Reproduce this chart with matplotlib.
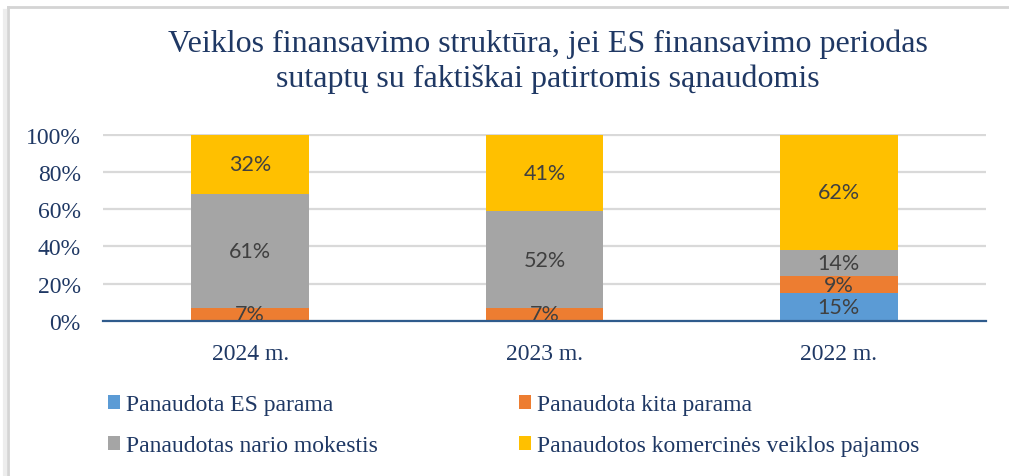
import numpy as np
import matplotlib
matplotlib.use('Agg')
import matplotlib.pyplot as plt
from matplotlib.lines import Line2D

years = ['2024 m.', '2023 m.', '2022 m.']
series_names = ['Panaudota ES parama', 'Panaudota kita parama',
                'Panaudotas nario mokestis', 'Panaudotos komercinės veiklos pajamos']
es_parama = [0, 0, 15]
kita_parama = [7, 7, 9]
nario_mokestis = [61, 52, 14]
komercines = [32, 41, 62]
colors = ['#5B9BD5', '#ED7D31', '#A5A5A5', '#FFC000']

navy = '#1F3864'
serif = 'Liberation Serif'

fig = plt.figure(figsize=(10.09, 4.77), dpi=100)
ax = fig.add_axes([0.1021, 0.3249, 0.875, 0.392])

x = np.arange(len(years))
bottom = np.zeros(len(years))
handles = []
for name, vals, c in zip(series_names, [es_parama, kita_parama, nario_mokestis, komercines], colors):
    vals = np.array(vals) / 100
    bars = ax.bar(x, vals, 0.4, bottom=bottom, color=c, label=name, zorder=3)
    labels = ['%d%%' % round(v * 100) if v > 0 else '' for v in vals]
    ax.bar_label(bars, labels=labels, label_type='center', color='#404040',
                 fontsize=15.5, family='Lato', zorder=4)
    bottom += vals
    handles.append(bars)

ax.set_xlim(-0.5, 2.5)
ax.set_ylim(0, 1.003)
ax.set_yticks(np.arange(0, 1.01, 0.2))
ax.set_yticklabels(['%d%%' % (v * 100) for v in np.arange(0, 1.01, 0.2)])
ax.set_xticks(x)
ax.set_xticklabels(years)
ax.tick_params(length=0, labelsize=17, labelcolor=navy)
for lab in ax.get_xticklabels() + ax.get_yticklabels():
    lab.set_family(serif)
ax.tick_params(axis='x', pad=16)
ax.tick_params(axis='y', pad=16)
ax.yaxis.grid(True, color='#D9D9D9', lw=1.6, zorder=0)
for s in ['top', 'right', 'left']:
    ax.spines[s].set_visible(False)
ax.spines['bottom'].set_color('#2F5B8C')
ax.spines['bottom'].set_linewidth(1.6)
ax.spines['bottom'].set_zorder(5)

fig.text(0.543, 0.871, 'Veiklos finansavimo struktūra, jei ES finansavimo periodas\n'
         'sutaptų su faktiškai patirtomis sąnaudomis', ha='center', va='center',
         fontsize=23, family=serif, color=navy, linespacing=1.24)

order = [0, 2, 1, 3]
leg = fig.legend([handles[i] for i in order], [series_names[i] for i in order],
                 ncol=2, loc='upper left', bbox_to_anchor=(0.086, 0.216),
                 frameon=False, handlelength=0.5, handleheight=0.5, handletextpad=0.25,
                 columnspacing=6.0, labelspacing=0.85,
                 prop={'family': serif, 'size': 17})
for t in leg.get_texts():
    t.set_color(navy)

# frame of the pasted picture
fig.add_artist(Line2D([8 / 1009, 1.0], [1 - 8 / 477, 1 - 8 / 477], color='#D4D4D4', lw=2))
fig.add_artist(Line2D([8 / 1009, 8 / 1009], [0, 1 - 8 / 477], color='#D4D4D4', lw=2))
fig.add_artist(Line2D([5 / 1009, 5 / 1009], [0, 1 - 12 / 477], color='#EDEDED', lw=3))

fig.savefig('out.png', dpi=100)
